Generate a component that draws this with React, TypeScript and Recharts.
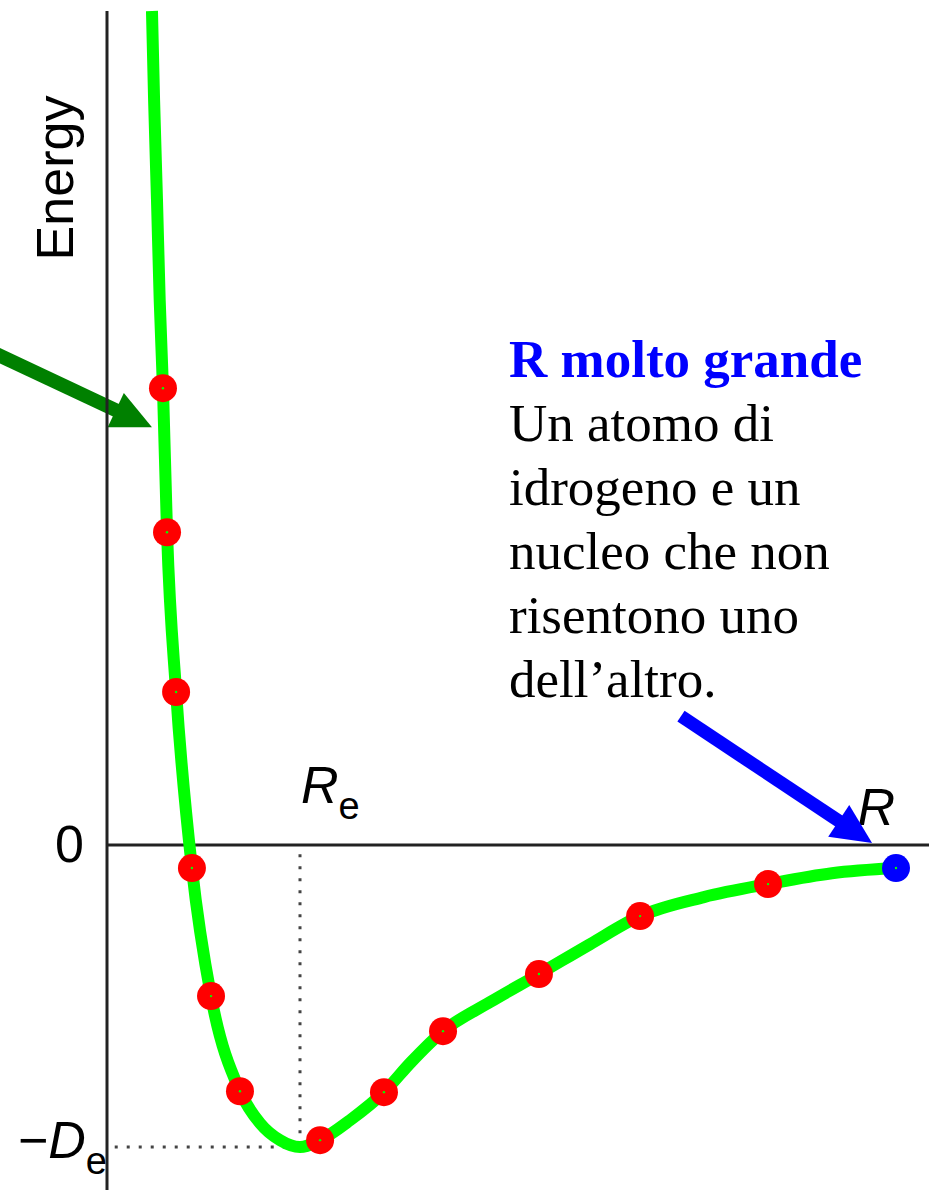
import React from 'react';
import {
  ComposedChart,
  Line,
  Scatter,
  XAxis,
  YAxis,
  ReferenceLine,
} from 'recharts';

// H2+ potential curve: distance in units of Re, energy in units of De
const distance = [
  0.233, 0.244, 0.259, 0.273, 0.29, 0.311, 0.358, 0.44, 0.539, 0.689, 0.793,
  0.896, 1.0, 1.104, 1.259, 1.435, 1.575, 1.741, 1.984, 2.238, 2.503, 2.762,
  3.093, 3.425, 3.756, 4.088,
];
const energy = [
  2.762, 2.467, 2.136, 1.805, 1.513, 1.036, 0.507, -0.076, -0.5, -0.815, -0.921,
  -0.977, -1.0, -0.977, -0.911, -0.818, -0.719, -0.616, -0.52, -0.427, -0.328,
  -0.235, -0.172, -0.129, -0.093, -0.076,
];
// which samples get a marker
const redMarkers = [4, 5, 6, 7, 8, 9, 13, 15, 17, 19, 21, 23];
const blueMarker = 25;

const energyTicks = [0, -1];
const textLines = [
  'Un atomo di',
  'idrogeno e un',
  'nucleo che non',
  'risentono uno',
  'dell\u2019altro.',
];

const rMax = 4.259;
const eMin = -1.142;
const eMax = 2.762;

const curve = distance.map((r, i) => ({ r, e: energy[i] }));
const redDots = redMarkers.map((i) => curve[i]);
const blueDots = [curve[blueMarker]];

// arrows in chart units: tail -> tip
const leftArrow = [
  { x: -0.66, y: 1.652 },
  { x: 0.233, y: 1.384 },
];
const rightArrow = [
  { x: 2.974, y: 0.427 },
  { x: 3.964, y: 0.007 },
];

const sans = '"Liberation Sans", Arial, sans-serif';
const serif = '"Liberation Serif", "Times New Roman", serif';

function Arrow(props: any) {
  const { x1, y1, x2, y2, stroke, strokeWidth } = props;
  const dx = x2 - x1;
  const dy = y2 - y1;
  const len = Math.hypot(dx, dy);
  const ux = dx / len;
  const uy = dy / len;
  const head = 40;
  const half = 19;
  const bx = x2 - ux * head;
  const by = y2 - uy * head;
  return (
    <g>
      <line
        x1={x1}
        y1={y1}
        x2={bx + ux * 2}
        y2={by + uy * 2}
        stroke={stroke}
        strokeWidth={strokeWidth}
      />
      <polygon
        points={`${x2},${y2} ${bx - uy * half},${by + ux * half} ${bx + uy * half},${by - ux * half}`}
        fill={stroke}
      />
    </g>
  );
}

// dotted guide lines to Re / -De
function Guide(props: any) {
  const { x1, y1, x2, y2 } = props;
  return (
    <line
      x1={x1}
      y1={y1}
      x2={x2}
      y2={y2}
      stroke="#444"
      strokeWidth={3}
      strokeDasharray="3 9"
    />
  );
}

const marker = (color: string) => (props: any) => (
  <g>
    <circle cx={props.cx} cy={props.cy} r={14} fill={color} />
    <circle cx={props.cx} cy={props.cy} r={1.2} fill="#00ff00" />
  </g>
);

function EnergyTick(props: any) {
  const { x, y, payload } = props;
  if (payload.value === 0) {
    return (
      <text x={x - 23} y={y + 17} textAnchor="end" fontFamily={sans} fontSize={52} fill="#000">
        0
      </text>
    );
  }
  return (
    <text x={x} y={y + 11} textAnchor="end" fontFamily={sans} fontSize={52} fill="#000">
      {'\u2212'}
      <tspan fontStyle="italic">D</tspan>
      <tspan fontSize={38} dy={16}>e</tspan>
    </text>
  );
}

export default function App() {
  return (
    <div style={{ position: 'absolute', left: 0, top: 0, width: 929, height: 1192, background: '#fff' }}>
      <ComposedChart
        width={929}
        height={1192}
        data={curve}
        margin={{ top: 11, right: 0, bottom: 2, left: 0 }}
      >
        <XAxis type="number" dataKey="r" domain={[0, rMax]} hide />
        <YAxis
          type="number"
          domain={[eMin, eMax]}
          ticks={energyTicks}
          width={107}
          tickSize={0}
          tickMargin={0}
          tickLine={false}
          axisLine={{ stroke: '#222', strokeWidth: 3 }}
          tick={EnergyTick}
          label={{
            content: ({ viewBox }: any) => (
              <text
                transform={`translate(${viewBox.x + 73},${viewBox.y + 167}) rotate(-90)`}
                textAnchor="middle"
                fontFamily={sans}
                fontSize={52}
                fill="#000"
              >
                Energy
              </text>
            ),
          }}
        />
        <ReferenceLine
          y={0}
          stroke="#222"
          strokeWidth={3}
          label={{
            content: ({ viewBox }: any) => (
              <text
                x={viewBox.x + viewBox.width - 34}
                y={viewBox.y - 20}
                textAnchor="end"
                fontFamily={sans}
                fontStyle="italic"
                fontSize={52}
                fill="#000"
              >
                R
              </text>
            ),
          }}
        />
        <ReferenceLine
          segment={[
            { x: 1, y: -0.03 },
            { x: 1, y: -1 },
          ]}
          shape={Guide}
          label={{
            content: ({ viewBox }: any) => (
              <text x={viewBox.x + 1} y={viewBox.y - 51} fontFamily={sans} fontSize={52} fill="#000">
                <tspan fontStyle="italic">R</tspan>
                <tspan fontSize={38} dy={16}>e</tspan>
              </text>
            ),
          }}
        />
        <ReferenceLine
          segment={[
            { x: 0.04, y: -1 },
            { x: 1, y: -1 },
          ]}
          shape={Guide}
        />
        <Line
          type="monotone"
          dataKey="e"
          stroke="#00ff00"
          strokeWidth={12}
          dot={false}
          activeDot={false}
          isAnimationActive={false}
        />
        <Scatter data={redDots} dataKey="e" shape={marker('#ff0000')} isAnimationActive={false} />
        <Scatter data={blueDots} dataKey="e" shape={marker('#0000ff')} isAnimationActive={false} />
        <ReferenceLine
          segment={leftArrow}
          ifOverflow="visible"
          stroke="#008000"
          strokeWidth={14}
          shape={Arrow}
        />
        <ReferenceLine
          segment={rightArrow}
          ifOverflow="visible"
          stroke="#0000ff"
          strokeWidth={13}
          shape={Arrow}
        />
      </ComposedChart>
      <div
        style={{
          position: 'absolute',
          left: 509,
          top: 327,
          fontFamily: serif,
          fontSize: 53,
          lineHeight: '64px',
          color: '#000',
          whiteSpace: 'pre',
        }}
      >
        <div style={{ color: '#0000ff', fontWeight: 'bold' }}>R molto grande</div>
        {textLines.map((t) => (
          <div key={t}>{t}</div>
        ))}
      </div>
    </div>
  );
}
